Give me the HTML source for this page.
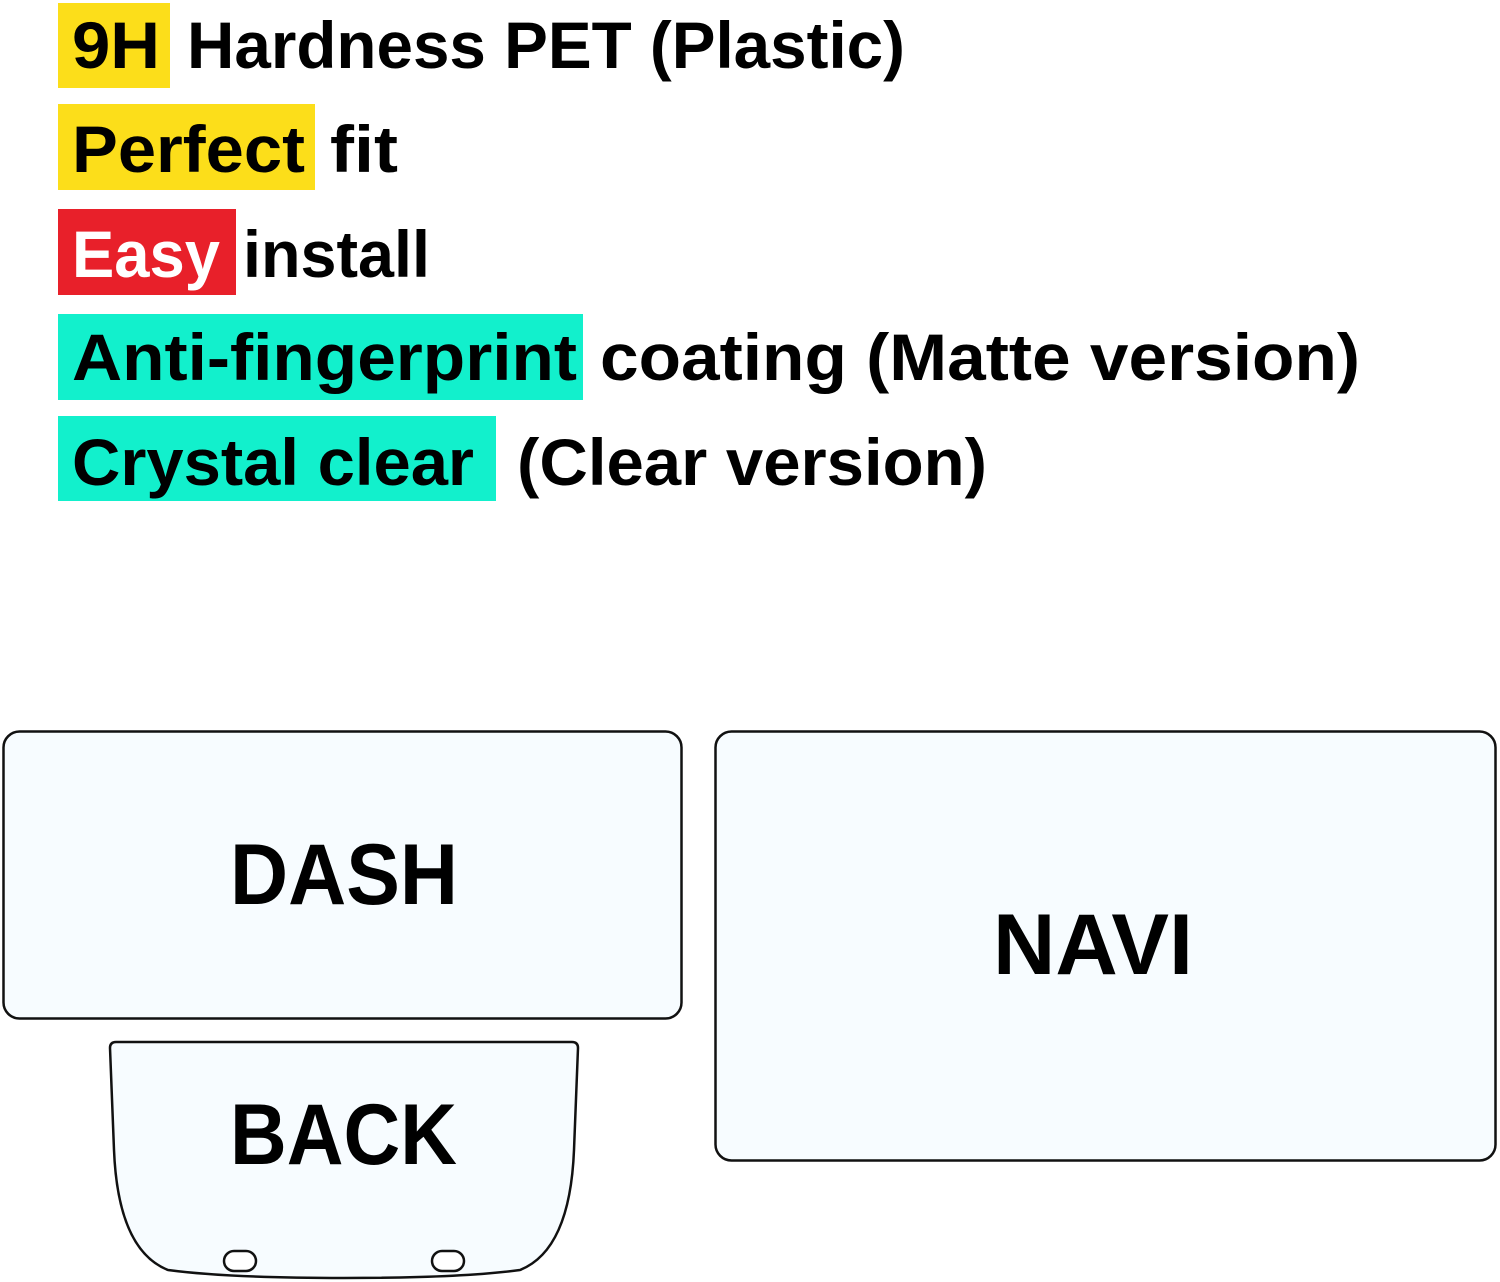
<!DOCTYPE html>
<html><head><meta charset="utf-8"><style>
html,body{margin:0;padding:0;background:#fff;width:1500px;height:1282px;overflow:hidden}
svg text{font-family:"Liberation Sans",sans-serif;font-weight:bold;fill:#000}
</style></head><body>
<svg width="1500" height="1282" viewBox="0 0 1500 1282" xmlns="http://www.w3.org/2000/svg">
<rect x="58" y="3" width="112" height="85" fill="#fcde1a"/>
<rect x="58" y="104" width="257" height="86" fill="#fcde1a"/>
<rect x="58" y="209" width="178" height="86" fill="#e8202a"/>
<rect x="58" y="314" width="525" height="86" fill="#12f0cc"/>
<rect x="58" y="416" width="438" height="85" fill="#12f0cc"/>
<g font-size="66">
<text x="72" y="68" textLength="88" lengthAdjust="spacingAndGlyphs">9H</text>
<text x="187" y="68" textLength="718" lengthAdjust="spacingAndGlyphs">Hardness PET (Plastic)</text>
<text x="72" y="172" textLength="233" lengthAdjust="spacingAndGlyphs">Perfect</text>
<text x="330" y="172" textLength="68" lengthAdjust="spacingAndGlyphs">fit</text>
<text x="72" y="277" textLength="148" lengthAdjust="spacingAndGlyphs" style="fill:#fff">Easy</text>
<text x="243" y="277" textLength="187" lengthAdjust="spacingAndGlyphs">install</text>
<text x="72" y="380" textLength="505" lengthAdjust="spacingAndGlyphs">Anti-fingerprint</text>
<text x="600" y="380" textLength="760" lengthAdjust="spacingAndGlyphs">coating (Matte version)</text>
<text x="72" y="485" textLength="402" lengthAdjust="spacingAndGlyphs">Crystal clear</text>
<text x="517" y="485" textLength="470" lengthAdjust="spacingAndGlyphs">(Clear version)</text>
</g>
<rect x="3.5" y="731.5" width="678" height="287" rx="16" fill="#f7fcff" stroke="#111" stroke-width="2.5"/>
<rect x="715.5" y="731.5" width="780" height="429" rx="16" fill="#f7fcff" stroke="#111" stroke-width="2.5"/>
<path d="M116,1042 L572,1042 Q578,1042 578,1048 L574,1150 Q570,1250 520,1270 Q460,1278 344,1278 Q228,1278 168,1270 Q118,1250 114,1150 L110,1048 Q110,1042 116,1042 Z" fill="#f7fcff" stroke="#111" stroke-width="2.5"/>
<rect x="224" y="1251" width="32" height="20" rx="10" fill="#fff" stroke="#111" stroke-width="2.5"/>
<rect x="432" y="1251" width="32" height="20" rx="10" fill="#fff" stroke="#111" stroke-width="2.5"/>
<g font-size="86">
<text x="230" y="904" textLength="228" lengthAdjust="spacingAndGlyphs">DASH</text>
<text x="993" y="974" textLength="200" lengthAdjust="spacingAndGlyphs">NAVI</text>
<text x="230" y="1164" textLength="227" lengthAdjust="spacingAndGlyphs">BACK</text>
</g>
</svg>
</body></html>
